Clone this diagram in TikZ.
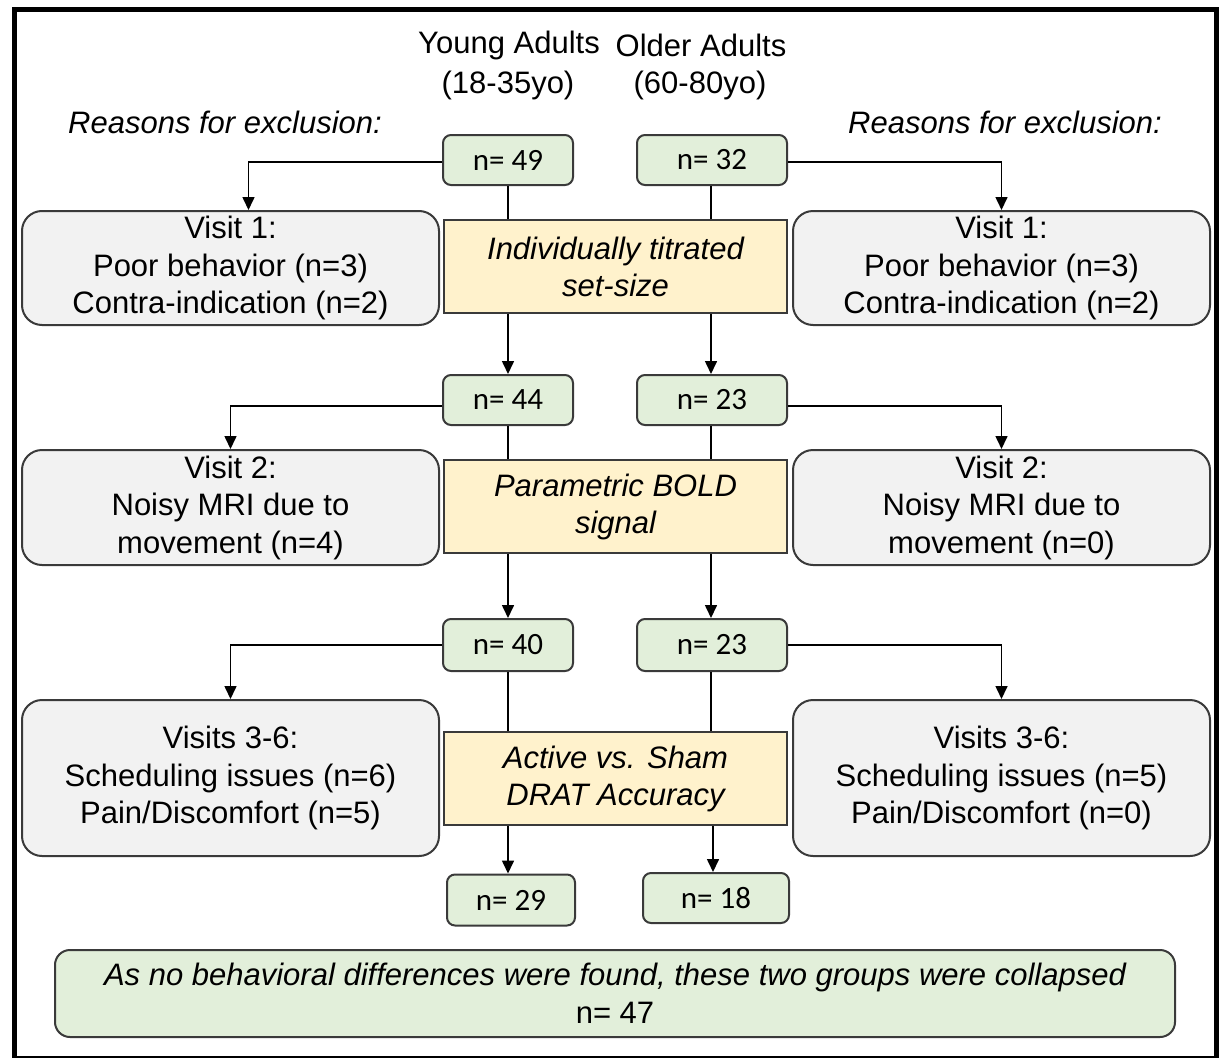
\documentclass[tikz,border=0pt]{standalone}
\usepackage{fontspec}
\setmainfont{Liberation Sans}
\newfontfamily\calfont{Carlito}
\usetikzlibrary{arrows.meta}
\definecolor{grayfill}{HTML}{F2F2F2}
\definecolor{greenfill}{HTML}{E2EFDA}
\definecolor{yellowfill}{HTML}{FFF2CC}
\definecolor{edge}{HTML}{3A3A3A}
\tikzset{
  txt/.style={font=\fontsize{31}{37}\selectfont, inner sep=0pt, align=center},
  itxt/.style={font=\fontsize{31}{37}\selectfont\itshape, inner sep=0pt, align=center},
  graybox/.style={draw=edge, line width=2pt, fill=grayfill, rounded corners=20pt, inner sep=0pt,
    align=center, font=\fontsize{31}{37.5}\selectfont, minimum width=417pt},
  nbox/.style={draw=edge, line width=2pt, fill=greenfill, rounded corners=8pt, inner sep=0pt,
    align=center, font=\calfont\fontsize{31}{36}\selectfont},
  ybox/.style={draw=edge, line width=2pt, fill=yellowfill, inner sep=0pt, align=center,
    font=\fontsize{31}{37}\selectfont\itshape, minimum width=343pt, minimum height=93pt},
  finalbox/.style={draw=edge, line width=2pt, fill=greenfill, rounded corners=15pt, inner sep=0pt,
    align=center, font=\fontsize{31}{38}\selectfont, minimum width=1120pt, minimum height=87pt},
  conn/.style={draw=black, line width=1.6pt},
  arr/.style={conn, -{Triangle[length=13pt,width=12pt]}},
}
\begin{document}
\begin{tikzpicture}[x=1pt,y=-1pt]
\useasboundingbox (0,0) rectangle (1222,1057);
\fill[white] (0,0) rectangle (1222,1057);
\draw[line width=5pt, black] (14,10) rectangle (1216,1058);

% headers
\node[txt] (hy1) at (509,45) {Young Adults};
\node[txt] (hy2) at (508,85) {(18-35yo)};
\node[txt] (ho1) at (701,45) {Older Adults};
\node[txt] (ho2) at (700,85) {(60-80yo)};
\node[itxt] (exL) at (225,122) {Reasons for exclusion:};
\node[itxt] (exR) at (1005,122) {Reasons for exclusion:};

% row 1
\node[nbox, minimum width=130pt, minimum height=50pt] (y49) at (508,160) {n= 49};
\node[nbox, minimum width=150pt, minimum height=50pt] (o32) at (712,160) {n= 32};
\node[graybox, minimum height=114pt] (v1L) at (230.5,268) {Visit 1:\\Poor behavior (n=3)\\Contra-indication (n=2)};
\node[graybox, minimum height=114pt] (v1R) at (1001.5,268) {Visit 1:\\Poor behavior (n=3)\\Contra-indication (n=2)};
\node[ybox] (yel1) at (615.5,266.5) {Individually titrated\\set-size};

% row 2
\node[nbox, minimum width=130pt, minimum height=50pt] (y44) at (508,400) {n= 44};
\node[nbox, minimum width=150pt, minimum height=50pt] (o23a) at (712,400) {n= 23};
\node[graybox, minimum height=115pt] (v2L) at (230.5,507.5) {Visit 2:\\Noisy MRI due to\\movement (n=4)};
\node[graybox, minimum height=115pt] (v2R) at (1001.5,507.5) {Visit 2:\\Noisy MRI due to\\movement (n=0)};
\node[ybox] (yel2) at (615.5,506.5) {Parametric BOLD\\signal};

% row 3
\node[nbox, minimum width=130pt, minimum height=52pt] (y40) at (508,645) {n= 40};
\node[nbox, minimum width=150pt, minimum height=52pt] (o23b) at (712,645) {n= 23};
\node[graybox, minimum height=156pt] (v3L) at (230.5,778) {Visits 3-6:\\Scheduling issues (n=6)\\Pain/Discomfort (n=5)};
\node[graybox, minimum height=156pt] (v3R) at (1001.5,778) {Visits 3-6:\\Scheduling issues (n=5)\\Pain/Discomfort (n=0)};
\node[ybox] (yel3) at (615.5,778.5) {Active vs. Sham\\DRAT Accuracy};

% final
\node[nbox, minimum width=128pt, minimum height=51pt] (y29) at (511,900) {n= 29};
\node[nbox, minimum width=146pt, minimum height=50pt] (o18) at (716,898) {n= 18};
\node[finalbox] (fin) at (615,993.5) {\itshape As no behavioral differences were found, these two groups were collapsed\\n= 47};

% connectors: vertical main flow
\draw[conn] (y49.south) -- (y49.south |- yel1.north);
\draw[conn] (o32.south -| 711,0) -- (711,0 |- yel1.north);
\draw[arr] (yel1.south -| y44) -- (y44.north);
\draw[arr] (yel1.south -| 711,0) -- (711,0 |- o23a.north);
\draw[conn] (y44.south) -- (y44.south |- yel2.north);
\draw[conn] (o23a.south -| 711,0) -- (711,0 |- yel2.north);
\draw[arr] (yel2.south -| y40) -- (y40.north);
\draw[arr] (yel2.south -| 711,0) -- (711,0 |- o23b.north);
\draw[conn] (y40.south) -- (y40.south |- yel3.north);
\draw[conn] (o23b.south -| 711,0) -- (711,0 |- yel3.north);
\draw[arr] (yel3.south -| 508,0) -- (508,0 |- y29.north);
\draw[arr] (yel3.south -| 713,0) -- (713,0 |- o18.north);

% side exclusions
\coordinate (v1Ltop) at ([xshift=18pt]v1L.north);
\draw[arr] ([yshift=-2pt]y49.west) -| (v1Ltop);
\draw[arr] ([yshift=-2pt]o32.east) -| (v1R.north);
\draw[arr] ([yshift=-6pt]y44.west) -| (v2L.north);
\draw[arr] ([yshift=-6pt]o23a.east) -| (v2R.north);
\draw[arr] (y40.west) -| (v3L.north);
\draw[arr] (o23b.east) -| (v3R.north);
\end{tikzpicture}
\end{document}
